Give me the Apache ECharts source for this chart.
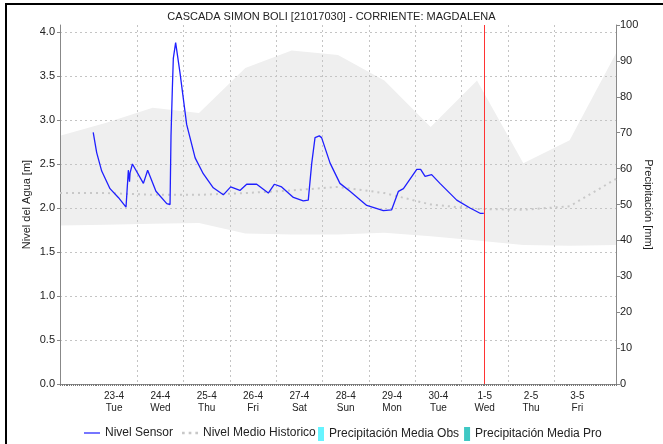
<!DOCTYPE html>
<html>
<head>
<meta charset="utf-8">
<script src="https://cdn.jsdelivr.net/npm/echarts@6/dist/echarts.min.js"></script>
<style>
  html, body { margin: 0; padding: 0; background: #fff; }
  #chart { width: 663px; height: 444px; }
</style>
</head>
<body>
<div id="chart"></div>
<script>
// horas contadas desde el 22-4 00:00
const dayTicks = [24, 48, 72, 96, 120, 144, 168, 192, 216, 240, 264];
const dayLabels = ['23-4\nTue', '24-4\nWed', '25-4\nThu', '26-4\nFri', '27-4\nSat', '28-4\nSun',
                   '29-4\nMon', '30-4\nTue', '1-5\nWed', '2-5\nThu', '3-5\nFri'];
const gridHours = [12, 36, 60, 84, 108, 132, 156, 180, 204, 228, 252, 276];
const levelTicks = [0, 0.5, 1, 1.5, 2, 2.5, 3, 3.5, 4];
const nowHour = 216;

// banda historica (max / min) y nivel medio
const histHours  = [-4, 20, 44, 68, 92, 116, 140, 164, 188, 212, 236, 260, 284];
const histMax    = [2.82, 2.97, 3.14, 3.08, 3.59, 3.79, 3.74, 3.45, 2.92, 3.45, 2.51, 2.77, 3.76];
const histMin    = [1.80, 1.81, 1.82, 1.83, 1.71, 1.70, 1.70, 1.72, 1.68, 1.63, 1.58, 1.57, 1.58];
const histMedian = [2.17, 2.17, 2.15, 2.15, 2.17, 2.20, 2.24, 2.17, 2.04, 1.99, 1.98, 2.02, 2.33];

// nivel sensor
const sensorHours = [13.2, 15.0, 17.6, 21.9, 26.2, 30.2, 31.4, 32.0, 32.3, 33.5, 39.2, 41.4, 45.7,
  51.3, 53.0, 53.5, 54.2, 54.7, 55.9, 58.2, 61.6, 66.0, 70.2, 75.4, 80.6, 84.4, 89.2, 92.7,
  97.9, 103.9, 107.0, 110.8, 116.9, 122.0, 124.6, 126.4, 128.1, 130.3, 131.5, 135.9, 141.0,
  146.2, 154.9, 163.5, 167.8, 171.3, 173.9, 180.8, 182.8, 185.1, 188.5, 192.8, 201.5, 208.4,
  213.6, 215.5];
const sensorLevel = [2.86, 2.63, 2.42, 2.22, 2.12, 2.01, 2.43, 2.30, 2.40, 2.50, 2.28, 2.43, 2.19,
  2.05, 2.04, 2.82, 3.36, 3.70, 3.88, 3.53, 2.95, 2.57, 2.39, 2.23, 2.15, 2.24, 2.20, 2.27,
  2.27, 2.17, 2.27, 2.24, 2.12, 2.08, 2.09, 2.51, 2.80, 2.82, 2.80, 2.51, 2.28,
  2.19, 2.03, 1.97, 1.98, 2.19, 2.22, 2.44, 2.44, 2.36, 2.38, 2.28, 2.09, 2.00,
  1.94, 1.94];

const precipObs = [];
const precipPro = [];

const font = 'Liberation Sans';
const zip = (xs, ys) => xs.map((x, i) => [x, ys[i]]);

const myChart = echarts.init(document.getElementById('chart'));
const option = {
  animation: false,
  textStyle: { fontFamily: font },
  title: {
    text: 'CASCADA SIMON BOLI [21017030] - CORRIENTE: MAGDALENA',
    left: 'center',
    top: 6,
    textStyle: { fontSize: 11, fontWeight: 'normal', color: '#222', fontFamily: font }
  },
  graphic: [
    { type: 'rect', shape: { x: 5, y: 3, width: 660, height: 2 }, style: { fill: '#000' } },
    { type: 'rect', shape: { x: 5, y: 3, width: 2, height: 444 }, style: { fill: '#000' } }
  ],
  legend: [
    {
      left: 84,
      top: 427,
      padding: 0,
      itemWidth: 16,
      itemHeight: 13,
      itemGap: 9,
      textStyle: { fontSize: 12, color: '#222', fontFamily: font },
      data: [
        { name: 'Nivel Sensor', icon: 'path://M0,0h17v1.3h-17z' },
        { name: 'Nivel Medio Historico', icon: 'path://M0,0h2v2h-2zM5,0h2v2h-2zM10,0h2v2h-2z' }
      ]
    },
    {
      left: 318,
      top: 427,
      padding: 0,
      itemWidth: 6,
      itemHeight: 14,
      itemGap: 5,
      textStyle: { fontSize: 12, color: '#222', fontFamily: font },
      data: [
        { name: 'Precipitación Media Obs', icon: 'rect' },
        { name: 'Precipitación Media Pro', icon: 'rect' }
      ]
    }
  ],
  grid: { left: 60, right: 47, top: 25, bottom: 60, outerBoundsMode: 'none' },
  xAxis: [
    {
      type: 'value',
      min: -4,
      max: 284,
      axisLine: { show: true, onZero: false, lineStyle: { color: '#888' } },
      axisTick: { show: false, customValues: gridHours },
      axisLabel: {
        customValues: dayTicks,
        fontSize: 10,
        lineHeight: 12,
        color: '#222',
        margin: 6,
        formatter: v => dayLabels[dayTicks.indexOf(v)]
      },
      splitLine: { show: true, showMinLine: false, showMaxLine: false,
                   lineStyle: { color: '#c4c4c4', type: [2, 3] } }
    },
    {
      // marcas horarias bajo el eje
      type: 'value',
      min: -4,
      max: 284,
      interval: 1,
      position: 'bottom',
      axisLine: { show: true, onZero: false, lineStyle: { color: '#888', opacity: 0 } },
      axisTick: { show: true, interval: 0, length: 2, lineStyle: { color: '#777', width: 1 } },
      axisLabel: { show: false },
      splitLine: { show: false }
    }
  ],
  yAxis: [
    {
      type: 'value',
      min: 0,
      max: 4.08,
      interval: 0.5,
      name: 'Nivel del Agua [m]',
      nameLocation: 'middle',
      nameRotate: 90,
      nameGap: 28,
      nameMoveOverlap: false,
      nameTextStyle: { fontSize: 11, color: '#222', fontFamily: font },
      axisLine: { show: true, onZero: false, lineStyle: { color: '#888' } },
      axisTick: { show: true, length: 3, lineStyle: { color: '#888' } },
      axisLabel: {
        fontSize: 11,
        color: '#222',
        margin: 5,
        showMaxLabel: false,
        formatter: v => (levelTicks.indexOf(v) >= 0 ? v.toFixed(1) : '')
      },
      splitLine: { show: true, showMaxLine: false, showMinLine: false,
                   lineStyle: { color: '#c4c4c4', type: [2, 3] } }
    },
    {
      type: 'value',
      min: 0,
      max: 100,
      interval: 10,
      position: 'right',
      name: 'Precipitación [mm]',
      nameLocation: 'middle',
      nameRotate: -90,
      nameGap: 27,
      nameMoveOverlap: false,
      nameTextStyle: { fontSize: 11, color: '#222', fontFamily: font },
      axisLine: { show: true, onZero: false, lineStyle: { color: '#888' } },
      axisTick: { show: true, length: 4, lineStyle: { color: '#888' } },
      axisLabel: { fontSize: 11, color: '#222', margin: 4 },
      splitLine: { show: false }
    }
  ],
  series: [
    {
      // techo de la banda historica, gris hasta el eje
      name: 'banda-max',
      type: 'line',
      z: -3,
      data: zip(histHours, histMax),
      symbol: 'none',
      silent: true,
      lineStyle: { opacity: 0 },
      areaStyle: { color: '#efefef', opacity: 1 }
    },
    {
      // piso de la banda, blanco encima del gris
      name: 'banda-min',
      type: 'line',
      z: -2,
      data: zip(histHours, histMin),
      symbol: 'none',
      silent: true,
      lineStyle: { opacity: 0 },
      areaStyle: { color: '#ffffff', opacity: 1 }
    },
    {
      name: 'Nivel Medio Historico',
      type: 'line',
      data: zip(histHours, histMedian),
      symbol: 'none',
      color: '#c8c8c8',
      lineStyle: { color: '#c8c8c8', width: 2, type: [2, 4] }
    },
    {
      name: 'Nivel Sensor',
      type: 'line',
      data: zip(sensorHours, sensorLevel),
      symbol: 'none',
      color: '#1f1fff',
      lineStyle: { color: '#1f1fff', width: 1.3 },
      markLine: {
        silent: true,
        symbol: 'none',
        label: { show: false },
        lineStyle: { color: '#ff3333', type: 'solid', width: 1 },
        data: [{ xAxis: nowHour }]
      }
    },
    {
      name: 'Precipitación Media Obs',
      type: 'bar',
      yAxisIndex: 1,
      color: '#66f4ff',
      data: precipObs
    },
    {
      name: 'Precipitación Media Pro',
      type: 'bar',
      yAxisIndex: 1,
      color: '#3fc8c4',
      data: precipPro
    }
  ]
};
myChart.setOption(option);
window.addEventListener('resize', function () { myChart.resize(); });
</script>
</body>
</html>
